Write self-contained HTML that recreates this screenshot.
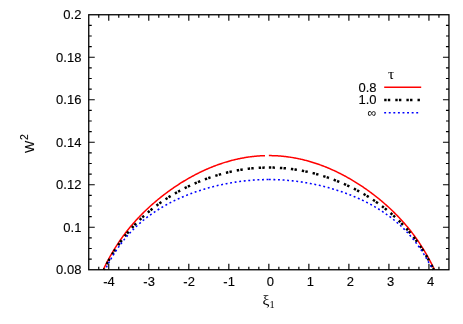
<!DOCTYPE html>
<html><head><meta charset="utf-8"><title>plot</title>
<style>
html,body{margin:0;padding:0;background:#fff;}
body{width:463px;height:324px;overflow:hidden;font-family:"Liberation Sans",sans-serif;}
svg{display:block;will-change:transform;}
</style></head><body>
<svg width="463" height="324" viewBox="0 0 463 324">
<rect width="463" height="324" fill="#fff"/>
<g fill="none">
<path d="M103.29 269.75 L103.96 268.32 L104.77 266.66 L105.57 265.04 L106.37 263.45 L107.17 261.89 L107.97 260.36 L108.77 258.86 L109.57 257.39 L110.37 255.94 L111.18 254.53 L111.98 253.14 L112.78 251.77 L113.58 250.43 L114.38 249.12 L115.18 247.82 L115.98 246.55 L116.78 245.30 L117.58 244.07 L118.39 242.86 L119.19 241.67 L119.99 240.50 L120.79 239.35 L121.59 238.22 L122.39 237.10 L123.19 236.00 L123.99 234.92 L124.80 233.85 L125.60 232.80 L126.40 231.77 L127.20 230.74 L128.00 229.74 L128.80 228.74 L129.60 227.76 L130.40 226.80 L131.20 225.84 L132.01 224.90 L132.81 223.97 L133.61 223.05 L134.41 222.14 L135.21 221.25 L136.01 220.36 L136.81 219.49 L137.61 218.62 L138.42 217.77 L139.22 216.93 L140.02 216.09 L140.82 215.27 L141.62 214.45 L142.42 213.64 L143.22 212.85 L144.02 212.06 L144.82 211.28 L145.63 210.50 L146.43 209.74 L147.23 208.98 L148.03 208.23 L148.83 207.49 L149.63 206.76 L150.43 206.03 L151.23 205.31 L152.04 204.60 L152.84 203.89 L153.64 203.20 L154.44 202.50 L155.24 201.82 L156.04 201.14 L156.84 200.47 L157.64 199.80 L158.44 199.14 L159.25 198.49 L160.05 197.84 L160.85 197.20 L161.65 196.57 L162.45 195.94 L163.25 195.32 L164.05 194.70 L164.85 194.09 L165.66 193.48 L166.46 192.88 L167.26 192.29 L168.06 191.70 L168.86 191.11 L169.66 190.53 L170.46 189.96 L171.26 189.39 L172.06 188.83 L172.87 188.27 L173.67 187.72 L174.47 187.17 L175.27 186.63 L176.07 186.10 L176.87 185.57 L177.67 185.04 L178.47 184.52 L179.27 184.00 L180.08 183.49 L180.88 182.98 L181.68 182.48 L182.48 181.99 L183.28 181.49 L184.08 181.01 L184.88 180.52 L185.68 180.05 L186.49 179.58 L187.29 179.11 L188.09 178.65 L188.89 178.19 L189.69 177.73 L190.49 177.29 L191.29 176.84 L192.09 176.40 L192.89 175.97 L193.70 175.54 L194.50 175.12 L195.30 174.69 L196.10 174.28 L196.90 173.87 L197.70 173.46 L198.50 173.06 L199.30 172.66 L200.11 172.27 L200.91 171.88 L201.71 171.50 L202.51 171.12 L203.31 170.75 L204.11 170.38 L204.91 170.02 L205.71 169.66 L206.51 169.30 L207.32 168.95 L208.12 168.61 L208.92 168.26 L209.72 167.93 L210.52 167.59 L211.32 167.27 L212.12 166.94 L212.92 166.63 L213.73 166.31 L214.53 166.00 L215.33 165.70 L216.13 165.40 L216.93 165.10 L217.73 164.81 L218.53 164.52 L219.33 164.24 L220.13 163.96 L220.94 163.69 L221.74 163.42 L222.54 163.16 L223.34 162.90 L224.14 162.64 L224.94 162.39 L225.74 162.15 L226.54 161.91 L227.35 161.67 L228.15 161.44 L228.95 161.21 L229.75 160.99 L230.55 160.77 L231.35 160.55 L232.15 160.35 L232.95 160.14 L233.75 159.94 L234.56 159.74 L235.36 159.55 L236.16 159.37 L236.96 159.18 L237.76 159.01 L238.56 158.83 L239.36 158.66 L240.16 158.50 L240.96 158.34 L241.77 158.18 L242.57 158.03 L243.37 157.89 L244.17 157.75 L244.97 157.61 L245.77 157.48 L246.57 157.35 L247.37 157.22 L248.18 157.11 L248.98 156.99 L249.78 156.88 L250.58 156.78 L251.38 156.68 L252.18 156.58 L252.98 156.49 L253.78 156.40 L254.58 156.32 L255.39 156.24 L256.19 156.16 L256.99 156.10 L257.79 156.03 L258.59 155.97 L259.39 155.92 L260.19 155.86 L260.99 155.82 L261.80 155.78 L262.60 155.74 L263.40 155.70 L264.20 155.68 L265.00 155.65" stroke="#ff0000" stroke-width="1.50"/>
<path d="M268.85 155.60 L269.65 155.60 L270.45 155.61 L271.25 155.62 L272.05 155.64 L272.85 155.66 L273.65 155.68 L274.45 155.71 L275.25 155.74 L276.05 155.78 L276.85 155.83 L277.65 155.87 L278.46 155.93 L279.26 155.98 L280.06 156.04 L280.86 156.11 L281.66 156.18 L282.46 156.25 L283.26 156.33 L284.06 156.41 L284.86 156.50 L285.66 156.60 L286.46 156.69 L287.26 156.79 L288.06 156.90 L288.86 157.01 L289.66 157.13 L290.46 157.25 L291.26 157.37 L292.06 157.50 L292.86 157.63 L293.66 157.77 L294.46 157.91 L295.26 158.06 L296.07 158.21 L296.87 158.37 L297.67 158.53 L298.47 158.69 L299.27 158.86 L300.07 159.03 L300.87 159.21 L301.67 159.39 L302.47 159.58 L303.27 159.77 L304.07 159.97 L304.87 160.17 L305.67 160.38 L306.47 160.59 L307.27 160.80 L308.07 161.02 L308.87 161.24 L309.67 161.47 L310.47 161.70 L311.27 161.94 L312.07 162.18 L312.87 162.43 L313.67 162.68 L314.48 162.94 L315.28 163.20 L316.08 163.46 L316.88 163.73 L317.68 164.00 L318.48 164.28 L319.28 164.56 L320.08 164.85 L320.88 165.14 L321.68 165.44 L322.48 165.74 L323.28 166.04 L324.08 166.35 L324.88 166.67 L325.68 166.99 L326.48 167.31 L327.28 167.64 L328.08 167.97 L328.88 168.31 L329.68 168.65 L330.48 168.99 L331.28 169.35 L332.09 169.70 L332.89 170.06 L333.69 170.43 L334.49 170.80 L335.29 171.17 L336.09 171.55 L336.89 171.93 L337.69 172.32 L338.49 172.71 L339.29 173.11 L340.09 173.51 L340.89 173.92 L341.69 174.33 L342.49 174.74 L343.29 175.16 L344.09 175.59 L344.89 176.02 L345.69 176.45 L346.49 176.89 L347.29 177.33 L348.09 177.78 L348.89 178.23 L349.69 178.69 L350.50 179.16 L351.30 179.62 L352.10 180.10 L352.90 180.57 L353.70 181.05 L354.50 181.54 L355.30 182.03 L356.10 182.53 L356.90 183.03 L357.70 183.54 L358.50 184.05 L359.30 184.57 L360.10 185.09 L360.90 185.61 L361.70 186.14 L362.50 186.68 L363.30 187.22 L364.10 187.77 L364.90 188.32 L365.70 188.88 L366.50 189.44 L367.30 190.01 L368.11 190.58 L368.91 191.16 L369.71 191.74 L370.51 192.33 L371.31 192.93 L372.11 193.53 L372.91 194.13 L373.71 194.74 L374.51 195.36 L375.31 195.99 L376.11 196.61 L376.91 197.25 L377.71 197.89 L378.51 198.54 L379.31 199.19 L380.11 199.85 L380.91 200.51 L381.71 201.19 L382.51 201.86 L383.31 202.55 L384.11 203.24 L384.91 203.94 L385.71 204.64 L386.52 205.36 L387.32 206.07 L388.12 206.80 L388.92 207.53 L389.72 208.28 L390.52 209.02 L391.32 209.78 L392.12 210.55 L392.92 211.32 L393.72 212.10 L394.52 212.89 L395.32 213.69 L396.12 214.49 L396.92 215.31 L397.72 216.13 L398.52 216.97 L399.32 217.81 L400.12 218.66 L400.92 219.53 L401.72 220.40 L402.52 221.29 L403.32 222.18 L404.13 223.09 L404.93 224.01 L405.73 224.94 L406.53 225.88 L407.33 226.83 L408.13 227.80 L408.93 228.78 L409.73 229.77 L410.53 230.78 L411.33 231.80 L412.13 232.84 L412.93 233.89 L413.73 234.95 L414.53 236.04 L415.33 237.13 L416.13 238.25 L416.93 239.38 L417.73 240.53 L418.53 241.70 L419.33 242.89 L420.13 244.10 L420.93 245.33 L421.73 246.58 L422.54 247.85 L423.34 249.14 L424.14 250.46 L424.94 251.80 L425.74 253.16 L426.54 254.55 L427.34 255.97 L428.14 257.41 L428.94 258.88 L429.74 260.38 L430.54 261.90 L431.34 263.46 L432.14 265.05 L432.94 266.67 L433.74 268.33 L434.41 269.75" stroke="#ff0000" stroke-width="1.50"/>
<path d="M103.86 269.75 L103.96 269.56 L104.76 267.96 L105.56 266.40 L106.36 264.86 L107.16 263.36 L107.96 261.88 L108.76 260.43 L109.56 259.01 L110.36 257.62 L111.16 256.25 L111.96 254.90 L112.76 253.59 L113.56 252.29 L114.36 251.02 L115.16 249.77 L115.97 248.54 L116.77 247.33 L117.57 246.15 L118.37 244.98 L119.17 243.83 L119.97 242.71 L120.77 241.60 L121.57 240.51 L122.37 239.44 L123.17 238.38 L123.97 237.35 L124.77 236.32 L125.57 235.32 L126.37 234.33 L127.17 233.35 L127.97 232.39 L128.77 231.45 L129.57 230.52 L130.37 229.60 L131.17 228.70 L131.97 227.81 L132.77 226.93 L133.57 226.06 L134.38 225.21 L135.18 224.37 L135.98 223.54 L136.78 222.72 L137.58 221.92 L138.38 221.12 L139.18 220.33 L139.98 219.56 L140.78 218.80 L141.58 218.04 L142.38 217.30 L143.18 216.56 L143.98 215.84 L144.78 215.12 L145.58 214.41 L146.38 213.71 L147.18 213.02 L147.98 212.34 L148.78 211.67 L149.58 211.01 L150.38 210.35 L151.18 209.70 L151.99 209.06 L152.79 208.42 L153.59 207.80 L154.39 207.18 L155.19 206.57 L155.99 205.96 L156.79 205.37 L157.59 204.77 L158.39 204.19 L159.19 203.61 L159.99 203.04 L160.79 202.48 L161.59 201.92 L162.39 201.37 L163.19 200.82 L163.99 200.28 L164.79 199.75 L165.59 199.22 L166.39 198.70 L167.19 198.18 L167.99 197.67 L168.79 197.17 L169.59 196.67 L170.40 196.17 L171.20 195.68 L172.00 195.20 L172.80 194.72 L173.60 194.25 L174.40 193.78 L175.20 193.32 L176.00 192.86 L176.80 192.41 L177.60 191.96 L178.40 191.51 L179.20 191.08 L180.00 190.64 L180.80 190.21 L181.60 189.79 L182.40 189.37 L183.20 188.96 L184.00 188.55 L184.80 188.14 L185.60 187.74 L186.40 187.34 L187.20 186.95 L188.01 186.56 L188.81 186.18 L189.61 185.80 L190.41 185.42 L191.21 185.05 L192.01 184.69 L192.81 184.33 L193.61 183.97 L194.41 183.61 L195.21 183.27 L196.01 182.92 L196.81 182.58 L197.61 182.24 L198.41 181.91 L199.21 181.58 L200.01 181.26 L200.81 180.93 L201.61 180.62 L202.41 180.31 L203.21 180.00 L204.01 179.69 L204.81 179.39 L205.61 179.09 L206.42 178.80 L207.22 178.51 L208.02 178.23 L208.82 177.95 L209.62 177.67 L210.42 177.40 L211.22 177.13 L212.02 176.86 L212.82 176.60 L213.62 176.34 L214.42 176.09 L215.22 175.84 L216.02 175.59 L216.82 175.35 L217.62 175.11 L218.42 174.87 L219.22 174.64 L220.02 174.41 L220.82 174.19 L221.62 173.97 L222.42 173.75 L223.22 173.54 L224.03 173.33 L224.83 173.13 L225.63 172.93 L226.43 172.73 L227.23 172.53 L228.03 172.34 L228.83 172.16 L229.63 171.97 L230.43 171.80 L231.23 171.62 L232.03 171.45 L232.83 171.28 L233.63 171.12 L234.43 170.96 L235.23 170.80 L236.03 170.65 L236.83 170.50 L237.63 170.35 L238.43 170.21 L239.23 170.07 L240.03 169.94 L240.83 169.81 L241.63 169.68 L242.44 169.56 L243.24 169.44 L244.04 169.32 L244.84 169.21 L245.64 169.10 L246.44 168.99 L247.24 168.89 L248.04 168.80 L248.84 168.70 L249.64 168.61 L250.44 168.52 L251.24 168.44 L252.04 168.36 L252.84 168.29 L253.64 168.21 L254.44 168.15 L255.24 168.08 L256.04 168.02 L256.84 167.96 L257.64 167.91 L258.44 167.86 L259.24 167.82 L260.05 167.77 L260.85 167.73 L261.65 167.70 L262.45 167.67 L263.25 167.64 L264.05 167.62 L264.85 167.60 L265.65 167.58 L266.45 167.57 L267.25 167.56 L268.05 167.55 L268.85 167.55" stroke="#000" stroke-width="2.50" stroke-dasharray="2.4 1.25 2.4 5.0" stroke-dashoffset="4.66"/>
<path d="M268.85 167.55 L269.65 167.55 L270.45 167.56 L271.25 167.57 L272.05 167.58 L272.85 167.60 L273.65 167.62 L274.45 167.64 L275.25 167.67 L276.05 167.70 L276.85 167.73 L277.65 167.77 L278.46 167.82 L279.26 167.86 L280.06 167.91 L280.86 167.96 L281.66 168.02 L282.46 168.08 L283.26 168.15 L284.06 168.21 L284.86 168.29 L285.66 168.36 L286.46 168.44 L287.26 168.52 L288.06 168.61 L288.86 168.70 L289.66 168.80 L290.46 168.89 L291.26 168.99 L292.06 169.10 L292.86 169.21 L293.66 169.32 L294.46 169.44 L295.26 169.56 L296.07 169.68 L296.87 169.81 L297.67 169.94 L298.47 170.07 L299.27 170.21 L300.07 170.35 L300.87 170.50 L301.67 170.65 L302.47 170.80 L303.27 170.96 L304.07 171.12 L304.87 171.28 L305.67 171.45 L306.47 171.62 L307.27 171.80 L308.07 171.97 L308.87 172.16 L309.67 172.34 L310.47 172.53 L311.27 172.73 L312.07 172.93 L312.87 173.13 L313.67 173.33 L314.48 173.54 L315.28 173.75 L316.08 173.97 L316.88 174.19 L317.68 174.41 L318.48 174.64 L319.28 174.87 L320.08 175.11 L320.88 175.35 L321.68 175.59 L322.48 175.84 L323.28 176.09 L324.08 176.34 L324.88 176.60 L325.68 176.86 L326.48 177.13 L327.28 177.40 L328.08 177.67 L328.88 177.95 L329.68 178.23 L330.48 178.51 L331.28 178.80 L332.09 179.09 L332.89 179.39 L333.69 179.69 L334.49 180.00 L335.29 180.31 L336.09 180.62 L336.89 180.93 L337.69 181.26 L338.49 181.58 L339.29 181.91 L340.09 182.24 L340.89 182.58 L341.69 182.92 L342.49 183.27 L343.29 183.61 L344.09 183.97 L344.89 184.33 L345.69 184.69 L346.49 185.05 L347.29 185.42 L348.09 185.80 L348.89 186.18 L349.69 186.56 L350.50 186.95 L351.30 187.34 L352.10 187.74 L352.90 188.14 L353.70 188.55 L354.50 188.96 L355.30 189.37 L356.10 189.79 L356.90 190.21 L357.70 190.64 L358.50 191.08 L359.30 191.51 L360.10 191.96 L360.90 192.41 L361.70 192.86 L362.50 193.32 L363.30 193.78 L364.10 194.25 L364.90 194.72 L365.70 195.20 L366.50 195.68 L367.30 196.17 L368.11 196.67 L368.91 197.17 L369.71 197.67 L370.51 198.18 L371.31 198.70 L372.11 199.22 L372.91 199.75 L373.71 200.28 L374.51 200.82 L375.31 201.37 L376.11 201.92 L376.91 202.48 L377.71 203.04 L378.51 203.61 L379.31 204.19 L380.11 204.77 L380.91 205.37 L381.71 205.96 L382.51 206.57 L383.31 207.18 L384.11 207.80 L384.91 208.42 L385.71 209.06 L386.52 209.70 L387.32 210.35 L388.12 211.01 L388.92 211.67 L389.72 212.34 L390.52 213.02 L391.32 213.71 L392.12 214.41 L392.92 215.12 L393.72 215.84 L394.52 216.56 L395.32 217.30 L396.12 218.04 L396.92 218.80 L397.72 219.56 L398.52 220.33 L399.32 221.12 L400.12 221.92 L400.92 222.72 L401.72 223.54 L402.52 224.37 L403.32 225.21 L404.13 226.06 L404.93 226.93 L405.73 227.81 L406.53 228.70 L407.33 229.60 L408.13 230.52 L408.93 231.45 L409.73 232.39 L410.53 233.35 L411.33 234.33 L412.13 235.32 L412.93 236.32 L413.73 237.35 L414.53 238.38 L415.33 239.44 L416.13 240.51 L416.93 241.60 L417.73 242.71 L418.53 243.83 L419.33 244.98 L420.13 246.15 L420.93 247.33 L421.73 248.54 L422.54 249.77 L423.34 251.02 L424.14 252.29 L424.94 253.59 L425.74 254.90 L426.54 256.25 L427.34 257.62 L428.14 259.01 L428.94 260.43 L429.74 261.88 L430.54 263.36 L431.34 264.86 L432.14 266.40 L432.94 267.96 L433.74 269.56 L433.84 269.75" stroke="#000" stroke-width="2.50" stroke-dasharray="2.4 1.25 2.4 5.0"/>
<path d="M105.11 269.75 L105.56 268.85 L106.36 267.28 L107.16 265.75 L107.96 264.25 L108.76 262.78 L109.56 261.34 L110.36 259.93 L111.16 258.55 L111.96 257.19 L112.76 255.87 L113.56 254.57 L114.36 253.30 L115.16 252.06 L115.97 250.84 L116.77 249.64 L117.57 248.47 L118.37 247.32 L119.17 246.19 L119.97 245.09 L120.77 244.00 L121.57 242.94 L122.37 241.90 L123.17 240.87 L123.97 239.87 L124.77 238.88 L125.57 237.92 L126.37 236.97 L127.17 236.03 L127.97 235.12 L128.77 234.22 L129.57 233.34 L130.37 232.47 L131.17 231.61 L131.97 230.78 L132.77 229.95 L133.57 229.14 L134.38 228.35 L135.18 227.57 L135.98 226.80 L136.78 226.04 L137.58 225.29 L138.38 224.56 L139.18 223.84 L139.98 223.13 L140.78 222.44 L141.58 221.75 L142.38 221.07 L143.18 220.41 L143.98 219.75 L144.78 219.11 L145.58 218.47 L146.38 217.85 L147.18 217.23 L147.98 216.62 L148.78 216.03 L149.58 215.44 L150.38 214.86 L151.18 214.28 L151.99 213.72 L152.79 213.16 L153.59 212.62 L154.39 212.08 L155.19 211.54 L155.99 211.02 L156.79 210.50 L157.59 209.99 L158.39 209.48 L159.19 208.98 L159.99 208.49 L160.79 208.01 L161.59 207.53 L162.39 207.06 L163.19 206.59 L163.99 206.13 L164.79 205.68 L165.59 205.23 L166.39 204.79 L167.19 204.36 L167.99 203.93 L168.79 203.50 L169.59 203.08 L170.40 202.67 L171.20 202.26 L172.00 201.85 L172.80 201.45 L173.60 201.06 L174.40 200.67 L175.20 200.29 L176.00 199.91 L176.80 199.53 L177.60 199.16 L178.40 198.80 L179.20 198.44 L180.00 198.08 L180.80 197.73 L181.60 197.38 L182.40 197.03 L183.20 196.69 L184.00 196.36 L184.80 196.03 L185.60 195.70 L186.40 195.38 L187.20 195.06 L188.01 194.74 L188.81 194.43 L189.61 194.12 L190.41 193.82 L191.21 193.52 L192.01 193.22 L192.81 192.93 L193.61 192.64 L194.41 192.36 L195.21 192.07 L196.01 191.80 L196.81 191.52 L197.61 191.25 L198.41 190.98 L199.21 190.72 L200.01 190.46 L200.81 190.20 L201.61 189.95 L202.41 189.70 L203.21 189.45 L204.01 189.20 L204.81 188.96 L205.61 188.73 L206.42 188.49 L207.22 188.26 L208.02 188.03 L208.82 187.81 L209.62 187.59 L210.42 187.37 L211.22 187.16 L212.02 186.94 L212.82 186.74 L213.62 186.53 L214.42 186.33 L215.22 186.13 L216.02 185.93 L216.82 185.74 L217.62 185.55 L218.42 185.36 L219.22 185.18 L220.02 185.00 L220.82 184.82 L221.62 184.65 L222.42 184.47 L223.22 184.30 L224.03 184.14 L224.83 183.98 L225.63 183.82 L226.43 183.66 L227.23 183.51 L228.03 183.36 L228.83 183.21 L229.63 183.06 L230.43 182.92 L231.23 182.78 L232.03 182.65 L232.83 182.51 L233.63 182.38 L234.43 182.26 L235.23 182.13 L236.03 182.01 L236.83 181.89 L237.63 181.78 L238.43 181.67 L239.23 181.56 L240.03 181.45 L240.83 181.35 L241.63 181.25 L242.44 181.15 L243.24 181.05 L244.04 180.96 L244.84 180.87 L245.64 180.79 L246.44 180.70 L247.24 180.62 L248.04 180.55 L248.84 180.47 L249.64 180.40 L250.44 180.33 L251.24 180.27 L252.04 180.20 L252.84 180.14 L253.64 180.09 L254.44 180.03 L255.24 179.98 L256.04 179.93 L256.84 179.89 L257.64 179.85 L258.44 179.81 L259.24 179.77 L260.05 179.74 L260.85 179.71 L261.65 179.68 L262.45 179.65 L263.25 179.63 L264.05 179.61 L264.85 179.60 L265.65 179.58 L266.45 179.57 L267.25 179.57 L268.05 179.56 L268.85 179.56" stroke="#0000ff" stroke-width="1.55" stroke-dasharray="1.9 2.68" stroke-dashoffset="1.82"/>
<path d="M268.85 179.56 L269.65 179.56 L270.45 179.57 L271.25 179.57 L272.05 179.58 L272.85 179.60 L273.65 179.61 L274.45 179.63 L275.25 179.65 L276.05 179.68 L276.85 179.71 L277.65 179.74 L278.46 179.77 L279.26 179.81 L280.06 179.85 L280.86 179.89 L281.66 179.93 L282.46 179.98 L283.26 180.03 L284.06 180.09 L284.86 180.14 L285.66 180.20 L286.46 180.27 L287.26 180.33 L288.06 180.40 L288.86 180.47 L289.66 180.55 L290.46 180.62 L291.26 180.70 L292.06 180.79 L292.86 180.87 L293.66 180.96 L294.46 181.05 L295.26 181.15 L296.07 181.25 L296.87 181.35 L297.67 181.45 L298.47 181.56 L299.27 181.67 L300.07 181.78 L300.87 181.89 L301.67 182.01 L302.47 182.13 L303.27 182.26 L304.07 182.38 L304.87 182.51 L305.67 182.65 L306.47 182.78 L307.27 182.92 L308.07 183.06 L308.87 183.21 L309.67 183.36 L310.47 183.51 L311.27 183.66 L312.07 183.82 L312.87 183.98 L313.67 184.14 L314.48 184.30 L315.28 184.47 L316.08 184.65 L316.88 184.82 L317.68 185.00 L318.48 185.18 L319.28 185.36 L320.08 185.55 L320.88 185.74 L321.68 185.93 L322.48 186.13 L323.28 186.33 L324.08 186.53 L324.88 186.74 L325.68 186.94 L326.48 187.16 L327.28 187.37 L328.08 187.59 L328.88 187.81 L329.68 188.03 L330.48 188.26 L331.28 188.49 L332.09 188.73 L332.89 188.96 L333.69 189.20 L334.49 189.45 L335.29 189.70 L336.09 189.95 L336.89 190.20 L337.69 190.46 L338.49 190.72 L339.29 190.98 L340.09 191.25 L340.89 191.52 L341.69 191.80 L342.49 192.07 L343.29 192.36 L344.09 192.64 L344.89 192.93 L345.69 193.22 L346.49 193.52 L347.29 193.82 L348.09 194.12 L348.89 194.43 L349.69 194.74 L350.50 195.06 L351.30 195.38 L352.10 195.70 L352.90 196.03 L353.70 196.36 L354.50 196.69 L355.30 197.03 L356.10 197.38 L356.90 197.73 L357.70 198.08 L358.50 198.44 L359.30 198.80 L360.10 199.16 L360.90 199.53 L361.70 199.91 L362.50 200.29 L363.30 200.67 L364.10 201.06 L364.90 201.45 L365.70 201.85 L366.50 202.26 L367.30 202.67 L368.11 203.08 L368.91 203.50 L369.71 203.93 L370.51 204.36 L371.31 204.79 L372.11 205.23 L372.91 205.68 L373.71 206.13 L374.51 206.59 L375.31 207.06 L376.11 207.53 L376.91 208.01 L377.71 208.49 L378.51 208.98 L379.31 209.48 L380.11 209.99 L380.91 210.50 L381.71 211.02 L382.51 211.54 L383.31 212.08 L384.11 212.62 L384.91 213.16 L385.71 213.72 L386.52 214.28 L387.32 214.86 L388.12 215.44 L388.92 216.03 L389.72 216.62 L390.52 217.23 L391.32 217.85 L392.12 218.47 L392.92 219.11 L393.72 219.75 L394.52 220.41 L395.32 221.07 L396.12 221.75 L396.92 222.44 L397.72 223.13 L398.52 223.84 L399.32 224.56 L400.12 225.29 L400.92 226.04 L401.72 226.80 L402.52 227.57 L403.32 228.35 L404.13 229.14 L404.93 229.95 L405.73 230.78 L406.53 231.61 L407.33 232.47 L408.13 233.34 L408.93 234.22 L409.73 235.12 L410.53 236.03 L411.33 236.97 L412.13 237.92 L412.93 238.88 L413.73 239.87 L414.53 240.87 L415.33 241.90 L416.13 242.94 L416.93 244.00 L417.73 245.09 L418.53 246.19 L419.33 247.32 L420.13 248.47 L420.93 249.64 L421.73 250.84 L422.54 252.06 L423.34 253.30 L424.14 254.57 L424.94 255.87 L425.74 257.19 L426.54 258.55 L427.34 259.93 L428.14 261.34 L428.94 262.78 L429.74 264.25 L430.54 265.75 L431.34 267.28 L432.14 268.85 L432.59 269.75" stroke="#0000ff" stroke-width="1.55" stroke-dasharray="1.9 2.68"/>
</g>
<g stroke="#000" stroke-width="1.30" fill="none">
<rect x="88.75" y="14.75" width="360.20" height="255.00"/>
<path d="M98.76 269.75 v-3.00 M98.76 14.75 v3.00 M108.76 269.75 v-6.00 M108.76 14.75 v6.00 M118.77 269.75 v-3.00 M118.77 14.75 v3.00 M128.77 269.75 v-3.00 M128.77 14.75 v3.00 M138.78 269.75 v-3.00 M138.78 14.75 v3.00 M148.78 269.75 v-6.00 M148.78 14.75 v6.00 M158.79 269.75 v-3.00 M158.79 14.75 v3.00 M168.79 269.75 v-3.00 M168.79 14.75 v3.00 M178.80 269.75 v-3.00 M178.80 14.75 v3.00 M188.81 269.75 v-6.00 M188.81 14.75 v6.00 M198.81 269.75 v-3.00 M198.81 14.75 v3.00 M208.82 269.75 v-3.00 M208.82 14.75 v3.00 M218.82 269.75 v-3.00 M218.82 14.75 v3.00 M228.83 269.75 v-6.00 M228.83 14.75 v6.00 M238.83 269.75 v-3.00 M238.83 14.75 v3.00 M248.84 269.75 v-3.00 M248.84 14.75 v3.00 M258.84 269.75 v-3.00 M258.84 14.75 v3.00 M268.85 269.75 v-6.00 M268.85 14.75 v6.00 M278.86 269.75 v-3.00 M278.86 14.75 v3.00 M288.86 269.75 v-3.00 M288.86 14.75 v3.00 M298.87 269.75 v-3.00 M298.87 14.75 v3.00 M308.87 269.75 v-6.00 M308.87 14.75 v6.00 M318.88 269.75 v-3.00 M318.88 14.75 v3.00 M328.88 269.75 v-3.00 M328.88 14.75 v3.00 M338.89 269.75 v-3.00 M338.89 14.75 v3.00 M348.89 269.75 v-6.00 M348.89 14.75 v6.00 M358.90 269.75 v-3.00 M358.90 14.75 v3.00 M368.91 269.75 v-3.00 M368.91 14.75 v3.00 M378.91 269.75 v-3.00 M378.91 14.75 v3.00 M388.92 269.75 v-6.00 M388.92 14.75 v6.00 M398.92 269.75 v-3.00 M398.92 14.75 v3.00 M408.93 269.75 v-3.00 M408.93 14.75 v3.00 M418.93 269.75 v-3.00 M418.93 14.75 v3.00 M428.94 269.75 v-6.00 M428.94 14.75 v6.00 M438.94 269.75 v-3.00 M438.94 14.75 v3.00 M88.75 259.12 h3.00 M448.95 259.12 h-3.00 M88.75 248.50 h3.00 M448.95 248.50 h-3.00 M88.75 237.88 h3.00 M448.95 237.88 h-3.00 M88.75 227.25 h6.00 M448.95 227.25 h-6.00 M88.75 216.63 h3.00 M448.95 216.63 h-3.00 M88.75 206.00 h3.00 M448.95 206.00 h-3.00 M88.75 195.38 h3.00 M448.95 195.38 h-3.00 M88.75 184.75 h6.00 M448.95 184.75 h-6.00 M88.75 174.13 h3.00 M448.95 174.13 h-3.00 M88.75 163.50 h3.00 M448.95 163.50 h-3.00 M88.75 152.88 h3.00 M448.95 152.88 h-3.00 M88.75 142.25 h6.00 M448.95 142.25 h-6.00 M88.75 131.62 h3.00 M448.95 131.62 h-3.00 M88.75 121.00 h3.00 M448.95 121.00 h-3.00 M88.75 110.38 h3.00 M448.95 110.38 h-3.00 M88.75 99.75 h6.00 M448.95 99.75 h-6.00 M88.75 89.12 h3.00 M448.95 89.12 h-3.00 M88.75 78.50 h3.00 M448.95 78.50 h-3.00 M88.75 67.88 h3.00 M448.95 67.88 h-3.00 M88.75 57.25 h6.00 M448.95 57.25 h-6.00 M88.75 46.63 h3.00 M448.95 46.63 h-3.00 M88.75 36.00 h3.00 M448.95 36.00 h-3.00 M88.75 25.38 h3.00 M448.95 25.38 h-3.00" stroke-width="1.15"/>
</g>
<g font-family="'Liberation Sans', sans-serif" font-size="13px" stroke="#000" stroke-width="0.12" fill="#000">
<text x="81.4" y="274.00" text-anchor="end">0.08</text>
<text x="81.4" y="231.50" text-anchor="end">0.1</text>
<text x="81.4" y="189.00" text-anchor="end">0.12</text>
<text x="81.4" y="146.50" text-anchor="end">0.14</text>
<text x="81.4" y="104.00" text-anchor="end">0.16</text>
<text x="81.4" y="61.50" text-anchor="end">0.18</text>
<text x="81.4" y="19.00" text-anchor="end">0.2</text>
<text x="109.06" y="286.2" text-anchor="middle">-4</text>
<text x="149.08" y="286.2" text-anchor="middle">-3</text>
<text x="189.11" y="286.2" text-anchor="middle">-2</text>
<text x="229.13" y="286.2" text-anchor="middle">-1</text>
<text x="270.45" y="286.2" text-anchor="middle">0</text>
<text x="310.47" y="286.2" text-anchor="middle">1</text>
<text x="350.49" y="286.2" text-anchor="middle">2</text>
<text x="390.52" y="286.2" text-anchor="middle">3</text>
<text x="430.54" y="286.2" text-anchor="middle">4</text>
<text transform="translate(34.0,153.0) rotate(-90)" text-anchor="start">W<tspan font-size="10.4px" dy="-6" dx="0.7">2</tspan></text>
<text x="376.5" y="91.8" text-anchor="end">0.8</text>
<text x="376.5" y="104.4" text-anchor="end">1.0</text>
<text x="376.3" y="117.0" text-anchor="end" font-size="12.3px" stroke="none">∞</text>
</g>
<g font-family="'Liberation Serif', serif" fill="#000">
<text x="391.2" y="78.6" text-anchor="middle" font-size="15.5px">τ</text>
<text x="262.6" y="304.8" text-anchor="start" font-size="15.5px">ξ<tspan font-size="10.4px" dy="3.6" dx="-0.1">1</tspan></text>
</g>
<g fill="none">
<path d="M384.2 87.2 H421.2" stroke="#ff0000" stroke-width="1.5"/>
<path d="M384.2 99.9 H420.5" stroke="#000" stroke-width="2.5" stroke-dasharray="2.4 1.25 2.4 5.05"/>
<path d="M384.2 112.8 H420.5" stroke="#0000ff" stroke-width="1.55" stroke-dasharray="1.9 2.68"/>
</g>
</svg>
</body></html>
